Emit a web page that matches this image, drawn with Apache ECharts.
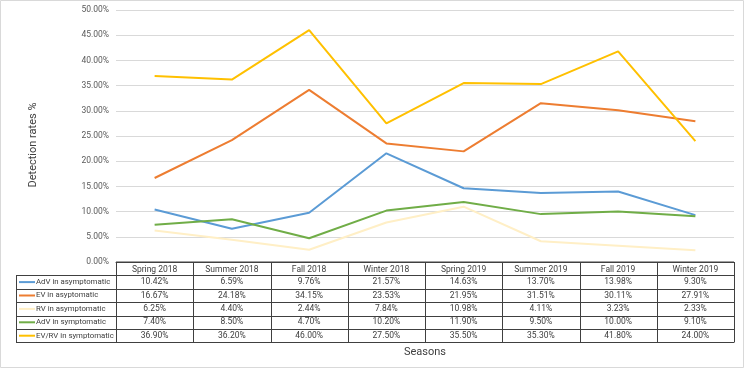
<!DOCTYPE html>
<html>
<head>
<meta charset="UTF-8">
<title>Detection rates by season</title>
<script type="text/javascript" src="https://cdn.jsdelivr.net/npm/echarts@6/dist/echarts.min.js"></script>
<style>
  html, body { margin: 0; padding: 0; background: #fff; }
</style>
</head>
<body>
    <div id="main" style="width: 745px;height:369px;"></div>
    <script type="text/javascript">
    // data
    var seasons = ['Spring 2018', 'Summer 2018', 'Fall 2018', 'Winter 2018', 'Spring 2019', 'Summer 2019', 'Fall 2019', 'Winter 2019'];
    var seriesNames = ['AdV in asymptomatic', 'EV in asyptomatic', 'RV in asymptomatic', 'AdV in symptomatic', 'EV/RV in symptomatic'];
    var advAsym = [10.42, 6.59, 9.76, 21.57, 14.63, 13.70, 13.98, 9.30];
    var evAsym = [16.67, 24.18, 34.15, 23.53, 21.95, 31.51, 30.11, 27.91];
    var rvAsym = [6.25, 4.40, 2.44, 7.84, 10.98, 4.11, 3.23, 2.33];
    var advSym = [7.40, 8.50, 4.70, 10.20, 11.90, 9.50, 10.00, 9.10];
    var evrvSym = [36.90, 36.20, 46.00, 27.50, 35.50, 35.30, 41.80, 24.00];
    var yTicks = [0, 5, 10, 15, 20, 25, 30, 35, 40, 45, 50];

    var allData = [advAsym, evAsym, rvAsym, advSym, evrvSym];
    var colors = ['#5B9BD5', '#ED7D31', '#FFEFC6', '#70AD47', '#FFC000'];
    var font = 'Roboto, "Liberation Sans", sans-serif';

    var myChart = echarts.init(document.getElementById('main'));

    var series = [];
    for (var i = 0; i < allData.length; i++) {
        series.push({
            name: seriesNames[i],
            type: 'line',
            data: allData[i],
            symbol: 'none',
            lineStyle: { width: 2, color: colors[i] },
            itemStyle: { color: colors[i] },
            z: 3
        });
    }

    var option = {
        animation: false,
        textStyle: { fontFamily: font },
        grid: { left: 116, right: 11, top: 10, bottom: 107 },
        xAxis: {
            type: 'category',
            data: seasons,
            boundaryGap: true,
            name: 'Seasons',
            nameLocation: 'middle',
            nameGap: 85,
            nameTextStyle: { fontSize: 11, color: '#404040', fontFamily: font },
            axisLine: { lineStyle: { color: '#404040', width: 1 } },
            axisTick: { show: false },
            axisLabel: { margin: 3, fontSize: 8.5, color: '#404040', fontFamily: font }
        },
        yAxis: {
            type: 'value',
            min: yTicks[0],
            max: yTicks[yTicks.length - 1],
            interval: 5,
            axisLine: { show: false },
            axisTick: { show: false },
            axisLabel: {
                margin: 7, fontSize: 8.5, color: '#595959', fontFamily: font,
                formatter: function (v) { return v.toFixed(2) + '%'; }
            },
            splitLine: { lineStyle: { color: '#D9D9D9', width: 1 } }
        },
        series: series
    };
    myChart.setOption(option);

    // data table under the plot, laid out on the category axis
    function buildTable() {
        var top = 262, rowH = 13.4, legendLeft = 16;
        var colW = myChart.convertToPixel({ xAxisIndex: 0 }, 1) - myChart.convertToPixel({ xAxisIndex: 0 }, 0);
        var centers = seasons.map(function (s, i) { return myChart.convertToPixel({ xAxisIndex: 0 }, i); });
        var left = centers[0] - colW / 2, right = centers[centers.length - 1] + colW / 2;
        var bottom = top + rowH * (allData.length + 1);
        var els = [];
        var lineStyle = { stroke: '#404040', lineWidth: 1 };

        // outer chart border
        els.push({ type: 'rect', shape: { x: 0.5, y: 0.5, width: 743, height: 367 },
            style: { fill: null, stroke: '#D9D9D9', lineWidth: 1 }, silent: true });

        // y axis title
        els.push({ type: 'text', x: 33, y: 145, rotation: Math.PI / 2,
            style: { text: 'Detection rates %', fontSize: 11, fill: '#404040', fontFamily: font,
                align: 'center', verticalAlign: 'middle' } });

        els.push({ type: 'line', shape: { x1: left, y1: top, x2: right, y2: top }, style: lineStyle });
        for (var r = 1; r <= allData.length + 1; r++) {
            var y = Math.round(top + rowH * r) + 0.5;
            els.push({ type: 'line', shape: { x1: legendLeft, y1: y, x2: right, y2: y }, style: lineStyle });
        }
        var y1 = Math.round(top + rowH) + 0.5, yb = Math.round(bottom) + 0.5;
        els.push({ type: 'line', shape: { x1: legendLeft + 0.5, y1: y1, x2: legendLeft + 0.5, y2: yb }, style: lineStyle });
        for (var c = 0; c <= seasons.length; c++) {
            var x = Math.round(left + colW * c) + 0.5;
            els.push({ type: 'line', shape: { x1: x, y1: top, x2: x, y2: yb }, style: lineStyle });
        }

        for (var k = 0; k < allData.length; k++) {
            var cy = top + rowH * (k + 1) + rowH / 2;
            els.push({ type: 'line', shape: { x1: legendLeft + 3, y1: cy, x2: legendLeft + 19, y2: cy },
                style: { stroke: colors[k], lineWidth: 2 } });
            els.push({ type: 'text', x: legendLeft + 20, y: cy,
                style: { text: seriesNames[k], fontSize: 7.8, fill: '#404040', fontFamily: font,
                    align: 'left', verticalAlign: 'middle' } });
            for (var j = 0; j < seasons.length; j++) {
                els.push({ type: 'text', x: centers[j], y: cy,
                    style: { text: allData[k][j].toFixed(2) + '%', fontSize: 8.5, fill: '#404040',
                        fontFamily: font, align: 'center', verticalAlign: 'middle' } });
            }
        }
        myChart.setOption({ graphic: els });
    }
    buildTable();
    </script>
</body>
</html>
